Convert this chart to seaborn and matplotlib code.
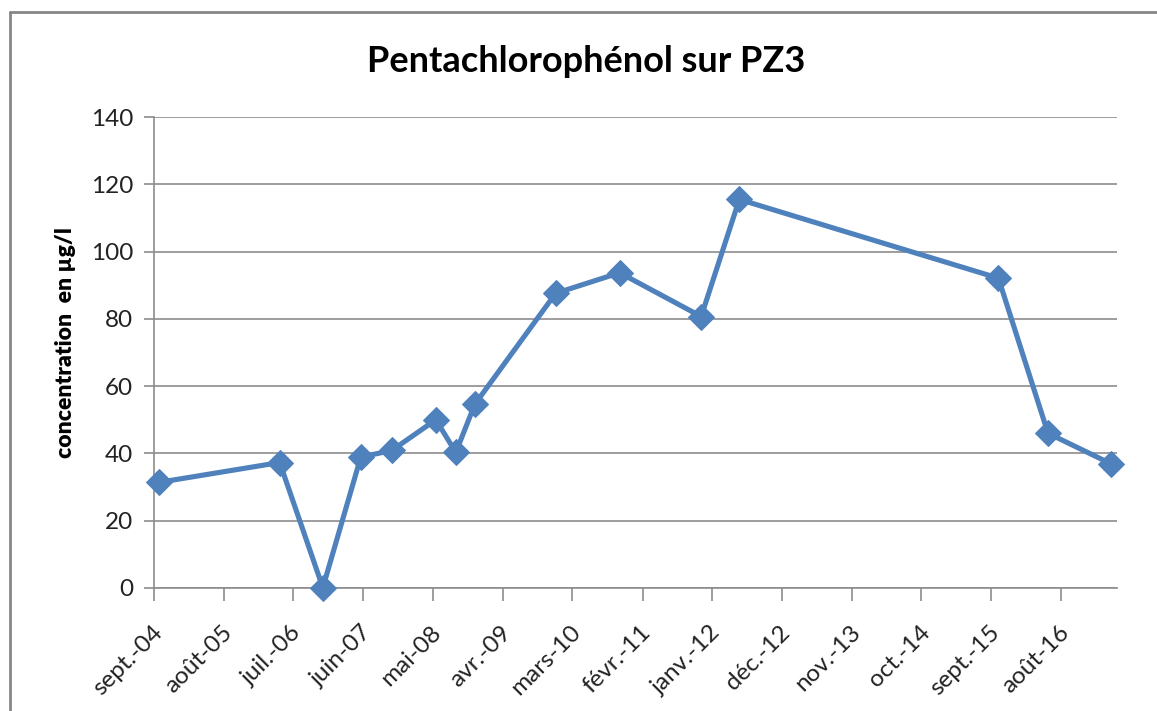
import matplotlib
matplotlib.use("Agg")
import matplotlib.pyplot as plt
import matplotlib.transforms as mtransforms
from matplotlib.lines import Line2D
import pandas as pd
import seaborn as sns

# ---- data ----
sample_dates = ["2004-09-25", "2006-04-27", "2006-11-20", "2007-05-21", "2007-10-17",
                "2008-05-15", "2008-08-19", "2008-11-18", "2009-12-11", "2010-10-14",
                "2011-11-09", "2012-05-10", "2015-10-05", "2016-05-30", "2017-03-29"]
concentrations = [31.4, 37.3, 0.1, 38.9, 40.9, 50.0, 40.3, 54.6, 87.6, 93.7,
                  80.7, 115.5, 92.1, 46.0, 36.9]
tick_dates = ["2004-09-01", "2005-08-01", "2006-07-01", "2007-06-01", "2008-05-01",
              "2009-04-01", "2010-03-01", "2011-02-01", "2012-01-01", "2012-12-01",
              "2013-11-01", "2014-10-01", "2015-09-01", "2016-08-01"]
tick_labels = ["sept.-04", "août-05", "juil.-06", "juin-07", "mai-08", "avr.-09",
               "mars-10", "févr.-11", "janv.-12", "déc.-12", "nov.-13", "oct.-14",
               "sept.-15", "août-16"]
y_ticks = [0, 20, 40, 60, 80, 100, 120, 140]
title = "Pentachlorophénol sur PZ3"
ylabel = "concentration  en µg/l"

df = pd.DataFrame({"date": pd.to_datetime(sample_dates), "value": concentrations})

sns.set_style("white")
plt.rcParams["font.family"] = ["Lato", "DejaVu Sans"]

W, H = 1157, 711
fig = plt.figure(figsize=(W / 100, H / 100), dpi=100)
ax = fig.add_axes([154 / W, 1 - 588 / H, (1117 - 154) / W, (588 - 117) / H])

blue = "#4F81BD"
sns.lineplot(data=df, x="date", y="value", ax=ax, color=blue, linewidth=3.7,
             marker="D", markersize=13, markeredgecolor=blue, markerfacecolor=blue)
for ln in ax.lines:
    ln.set_clip_on(False)
    ln.set_zorder(5)

ax.set_xlim(pd.Timestamp("2004-09-01"), pd.Timestamp("2017-04-26"))
ax.set_ylim(0, 140)
ax.set_yticks(y_ticks)
ax.set_yticklabels([str(v) for v in y_ticks], fontsize=17.5, color="#222222")
tick_ts = pd.to_datetime(tick_dates)
ax.set_xticks(tick_ts)
ax.set_xticklabels([])

offset = mtransforms.ScaledTranslation(5 / 100, -41 / 100, fig.dpi_scale_trans)
for t, lab in zip(tick_ts, tick_labels):
    ax.text(t, 0, lab, transform=ax.get_xaxis_transform() + offset,
            fontsize=17.5, color="#222222", rotation=45, ha="right", va="center",
            rotation_mode="anchor", clip_on=False)

ax.grid(axis="y", color="#8c8c8c", linewidth=1.2)
ax.grid(axis="x", visible=False)
for s in ["top", "right"]:
    ax.spines[s].set_visible(False)
for s in ["left", "bottom"]:
    ax.spines[s].set_color("#8c8c8c")
    ax.spines[s].set_linewidth(1.2)
ax.tick_params(axis="x", which="major", direction="out", length=9, width=1.2,
               color="#8c8c8c", bottom=True)
ax.tick_params(axis="y", which="major", direction="out", length=7, width=1.2,
               color="#8c8c8c", left=True, pad=8)
ax.set_xlabel("")
ax.set_ylabel("")
ax.set_axisbelow(True)

fig.text(586 / W, 1 - 62 / H, title, ha="center", va="center",
         fontsize=26, fontweight="bold", color="black")
fig.text(65 / W, 1 - 343 / H, ylabel, ha="center", va="center", rotation=90,
         fontsize=16.5, fontweight="heavy", color="black")

# chart area frame (partly cropped)
fig.add_artist(Line2D([10 / W, 10 / W], [0, 1 - 12 / H], transform=fig.transFigure,
                      color="#868686", linewidth=2))
fig.add_artist(Line2D([10 / W, 1], [1 - 12 / H, 1 - 12 / H], transform=fig.transFigure,
                      color="#868686", linewidth=2))

fig.savefig("out.png", dpi=100)
